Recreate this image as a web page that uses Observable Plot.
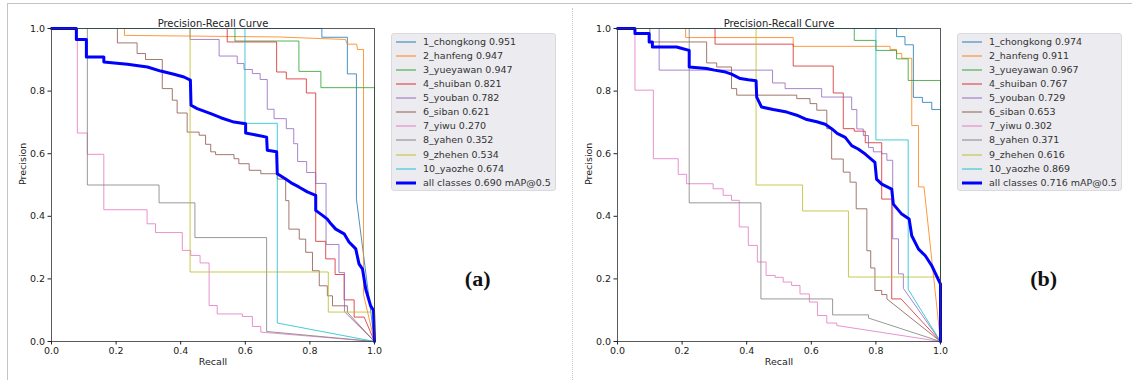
<!DOCTYPE html>
<html>
<head>
<meta charset="utf-8">
<script src="https://cdn.jsdelivr.net/npm/d3@7"></script>
<script src="https://cdn.jsdelivr.net/npm/@observablehq/plot@0.6"></script>
<style>
  body { margin: 0; background: #fff; width: 1132px; height: 380px; overflow: hidden; position: relative; font-family: "DejaVu Sans", sans-serif; }
  .abs { position: absolute; }
  .legend { position: absolute; background: #ebebf0; border: 1px solid #d9d9de; border-radius: 3px; box-sizing: border-box; }
  .row { position: absolute; left: 0; height: 14px; line-height: 14px; font-size: 9.5px; color: #333; white-space: nowrap; }
  .row svg { position: absolute; left: 3px; top: 0; }
  .row span { position: absolute; left: 31px; top: 0; }
  .plabel { position: absolute; font-family: "Liberation Serif", serif; font-weight: bold; font-size: 22px; color: #111; transform: translate(-50%, -50%); }
</style>
</head>
<body>
<div class="abs" style="left:7px;top:3px;width:1125px;height:1px;background:#c4c4c4"></div>
<div class="abs" style="left:7px;top:3px;width:1px;height:377px;background:#c4c4c4"></div>
<div class="abs" style="left:572px;top:8px;width:0;height:372px;border-left:1px dotted #c8c8c8"></div>
<script>
// ---------- categories ----------
const classNames = ["1_chongkong","2_hanfeng","3_yueyawan","4_shuiban","5_youban","6_siban","7_yiwu","8_yahen","9_zhehen","10_yaozhe"];
const colors = ["#1f77b4","#ff7f0e","#2ca02c","#d62728","#9467bd","#8c564b","#e377c2","#7f7f7f","#bcbd22","#17becf"];
const axisTicks = [0, 0.2, 0.4, 0.6, 0.8, 1.0];

// ---------- AP values ----------
const apA = [0.951, 0.947, 0.947, 0.821, 0.782, 0.621, 0.270, 0.352, 0.534, 0.674];
const mapA = 0.690;
const apB = [0.974, 0.911, 0.967, 0.767, 0.729, 0.653, 0.302, 0.371, 0.616, 0.869];
const mapB = 0.716;

// ---------- panel (a) curves: [recall, precision] ----------
const a_chongkong = [[0,1],[0.837,1],[0.837,0.972],[0.916,0.972],[0.916,0.855],[0.944,0.855],[0.944,0.456],[1,0]];
const a_hanfeng = [[0,1],[0.226,1],[0.226,0.978],[0.70,0.973],[0.91,0.965],[0.916,0.95],[0.945,0.95],[0.947,0.933],[0.966,0.933],[0.966,0.15],[1,0]];
const a_yueyawan = [[0,1],[0.568,1],[0.568,0.96],[0.766,0.96],[0.766,0.863],[0.834,0.863],[0.834,0.811],[1,0.811],[1,0]];
const a_shuiban = [[0,1],[0.544,1],[0.544,0.957],[0.697,0.957],[0.697,0.861],[0.727,0.861],[0.727,0.839],[0.789,0.839],[0.789,0.794],[0.818,0.794],[0.818,0.32],[0.849,0.32],[0.849,0.264],[0.878,0.264],[0.878,0.214],[0.906,0.214],[0.906,0.133],[0.937,0.133],[0.937,0.078],[0.968,0.078],[1,0]];
const a_youban = [[0,1],[0.429,1],[0.429,0.965],[0.519,0.965],[0.519,0.912],[0.575,0.912],[0.575,0.888],[0.596,0.888],[0.596,0.869],[0.622,0.869],[0.622,0.856],[0.646,0.856],[0.646,0.837],[0.668,0.837],[0.668,0.742],[0.689,0.742],[0.689,0.712],[0.727,0.712],[0.727,0.68],[0.75,0.68],[0.75,0.632],[0.762,0.632],[0.762,0.575],[0.79,0.575],[0.79,0.54],[0.818,0.54],[0.818,0.505],[0.85,0.505],[0.85,0.31],[0.89,0.31],[0.89,0.22],[0.907,0.22],[0.907,0.095],[1,0]];
const a_siban = [[0,1],[0.204,1],[0.204,0.954],[0.265,0.954],[0.265,0.92],[0.291,0.92],[0.291,0.901],[0.343,0.901],[0.343,0.808],[0.374,0.808],[0.374,0.771],[0.389,0.771],[0.389,0.73],[0.42,0.73],[0.42,0.669],[0.457,0.669],[0.457,0.659],[0.477,0.659],[0.477,0.63],[0.493,0.63],[0.493,0.606],[0.508,0.606],[0.508,0.597],[0.565,0.597],[0.565,0.584],[0.58,0.584],[0.58,0.568],[0.612,0.568],[0.612,0.547],[0.648,0.547],[0.648,0.536],[0.699,0.536],[0.699,0.519],[0.725,0.519],[0.725,0.45],[0.735,0.45],[0.735,0.359],[0.767,0.359],[0.767,0.327],[0.787,0.327],[0.787,0.285],[0.808,0.285],[0.808,0.226],[0.829,0.226],[0.829,0.178],[0.854,0.178],[0.854,0.146],[0.87,0.146],[0.87,0.114],[0.916,0.114],[0.916,0.093],[1,0]];
const a_yiwu = [[0,1],[0.08,1],[0.08,0.666],[0.111,0.666],[0.111,0.598],[0.162,0.598],[0.162,0.421],[0.296,0.421],[0.296,0.376],[0.322,0.376],[0.322,0.348],[0.405,0.348],[0.405,0.291],[0.431,0.291],[0.431,0.275],[0.46,0.275],[0.46,0.251],[0.488,0.251],[0.488,0.115],[0.513,0.115],[0.513,0.088],[0.591,0.088],[0.591,0.08],[0.622,0.08],[0.622,0.048],[0.648,0.048],[0.648,0.03],[1,0]];
const a_yahen = [[0,1],[0.111,1],[0.111,0.5],[0.333,0.5],[0.333,0.443],[0.444,0.443],[0.444,0.332],[0.666,0.332],[0.666,0.032],[1,0]];
const a_zhehen = [[0,1],[0.429,1],[0.429,0.222],[0.857,0.222],[0.857,0.094],[1,0.094],[1,0]];
const a_yaozhe = [[0,1],[0.599,1],[0.599,0.697],[0.699,0.697],[0.699,0.059],[1,0]];
const a_all = [[0,1],[0.077,1],[0.077,0.965],[0.108,0.965],[0.108,0.909],[0.162,0.909],[0.162,0.893],[0.235,0.886],[0.297,0.877],[0.338,0.864],[0.379,0.854],[0.41,0.845],[0.43,0.835],[0.432,0.755],[0.451,0.744],[0.493,0.728],[0.524,0.715],[0.565,0.701],[0.601,0.696],[0.601,0.666],[0.637,0.659],[0.666,0.653],[0.668,0.611],[0.697,0.606],[0.699,0.536],[0.725,0.519],[0.745,0.505],[0.767,0.493],[0.792,0.478],[0.818,0.467],[0.818,0.419],[0.839,0.403],[0.854,0.391],[0.865,0.376],[0.88,0.359],[0.906,0.344],[0.921,0.318],[0.942,0.296],[0.952,0.248],[0.963,0.231],[0.973,0.167],[0.988,0.114],[0.997,0.099],[1,0]];

// ---------- panel (b) curves ----------
const b_chongkong = [[0,1],[0.864,1],[0.864,0.974],[0.89,0.974],[0.89,0.948],[0.916,0.948],[0.916,0.78],[0.944,0.78],[0.944,0.764],[0.973,0.764],[0.973,0.741],[1,0.741],[1,0]];
const b_hanfeng = [[0,1],[0.211,1],[0.211,0.971],[0.544,0.971],[0.544,0.943],[0.844,0.943],[0.844,0.933],[0.864,0.933],[0.864,0.92],[0.88,0.92],[0.88,0.905],[0.911,0.905],[0.911,0.69],[0.932,0.69],[0.932,0.494],[0.949,0.494],[1,0]];
const b_yueyawan = [[0,1],[0.733,1],[0.733,0.962],[0.8,0.962],[0.8,0.93],[0.864,0.93],[0.864,0.903],[0.9,0.903],[0.9,0.834],[1,0.834],[1,0]];
const b_shuiban = [[0,1],[0.302,1],[0.302,0.95],[0.544,0.95],[0.544,0.88],[0.668,0.88],[0.668,0.794],[0.699,0.794],[0.699,0.68],[0.733,0.68],[0.733,0.672],[0.767,0.672],[0.767,0.635],[0.818,0.635],[0.818,0.455],[0.849,0.455],[0.849,0.136],[0.878,0.136],[1,0]];
const b_youban = [[0,1],[0.129,1],[0.129,0.867],[0.48,0.867],[0.48,0.826],[0.519,0.826],[0.519,0.808],[0.632,0.808],[0.632,0.781],[0.725,0.781],[0.725,0.741],[0.741,0.741],[0.741,0.679],[0.761,0.679],[0.761,0.658],[0.777,0.658],[0.777,0.62],[0.792,0.62],[0.792,0.606],[0.818,0.606],[0.818,0.6],[0.834,0.6],[0.834,0.579],[0.852,0.579],[0.852,0.328],[0.87,0.328],[0.87,0.216],[0.885,0.216],[0.885,0.17],[1,0]];
const b_siban = [[0,1],[0.1,1],[0.1,0.957],[0.276,0.957],[0.276,0.89],[0.307,0.89],[0.307,0.877],[0.353,0.877],[0.353,0.808],[0.369,0.808],[0.369,0.787],[0.555,0.787],[0.555,0.776],[0.596,0.776],[0.596,0.76],[0.617,0.76],[0.617,0.739],[0.648,0.739],[0.648,0.68],[0.663,0.68],[0.663,0.583],[0.699,0.583],[0.699,0.541],[0.72,0.541],[0.72,0.509],[0.739,0.509],[0.739,0.424],[0.772,0.424],[0.772,0.29],[0.784,0.29],[0.784,0.235],[0.797,0.235],[0.797,0.163],[0.818,0.163],[0.818,0.15],[0.834,0.15],[0.834,0.136],[1,0]];
const b_yiwu = [[0,1],[0.054,1],[0.054,0.803],[0.111,0.803],[0.111,0.584],[0.188,0.584],[0.188,0.534],[0.214,0.534],[0.214,0.504],[0.296,0.504],[0.296,0.488],[0.327,0.488],[0.327,0.467],[0.353,0.467],[0.353,0.451],[0.377,0.451],[0.377,0.366],[0.405,0.366],[0.405,0.307],[0.433,0.307],[0.433,0.254],[0.46,0.254],[0.46,0.211],[0.488,0.211],[0.488,0.205],[0.513,0.205],[0.513,0.19],[0.539,0.19],[0.539,0.179],[0.565,0.179],[0.565,0.152],[0.594,0.152],[0.594,0.126],[0.619,0.126],[0.619,0.083],[0.648,0.083],[0.648,0.059],[0.679,0.059],[0.679,0.051],[1,0]];
const b_yahen = [[0,1],[0.222,1],[0.222,0.443],[0.444,0.443],[0.444,0.136],[0.666,0.136],[0.666,0.085],[0.777,0.085],[0.777,0.075],[1,0]];
const b_zhehen = [[0,1],[0.429,1],[0.429,0.5],[0.573,0.5],[0.573,0.417],[0.715,0.417],[0.715,0.206],[1,0.206],[1,0]];
const b_yaozhe = [[0,1],[0.8,1],[0.8,0.644],[0.9,0.644],[0.9,0.167],[1,0]];
const b_all = [[0,1],[0.054,1],[0.054,0.984],[0.098,0.984],[0.098,0.957],[0.108,0.957],[0.108,0.941],[0.183,0.941],[0.2,0.936],[0.222,0.93],[0.222,0.877],[0.276,0.872],[0.3,0.867],[0.33,0.862],[0.353,0.854],[0.38,0.84],[0.405,0.836],[0.429,0.833],[0.431,0.781],[0.446,0.749],[0.482,0.741],[0.524,0.733],[0.555,0.723],[0.586,0.709],[0.617,0.702],[0.643,0.694],[0.663,0.68],[0.68,0.665],[0.705,0.652],[0.725,0.626],[0.745,0.615],[0.767,0.599],[0.797,0.572],[0.802,0.519],[0.818,0.503],[0.849,0.487],[0.854,0.439],[0.88,0.407],[0.903,0.391],[0.911,0.338],[0.932,0.295],[0.953,0.274],[0.973,0.242],[1.0,0.183],[1.0,0]];

const curvesA = [a_chongkong, a_hanfeng, a_yueyawan, a_shuiban, a_youban, a_siban, a_yiwu, a_yahen, a_zhehen, a_yaozhe];
const curvesB = [b_chongkong, b_hanfeng, b_yueyawan, b_shuiban, b_youban, b_siban, b_yiwu, b_yahen, b_zhehen, b_yaozhe];

function makePanel(curves, allCurve, ap, map, label, offsetX) {
  const fmt = d3.format(".1f");
  const chart = Plot.plot({
    width: 380, height: 380,
    marginLeft: 51, marginRight: 6, marginTop: 28, marginBottom: 39,
    x: {domain: [0, 1]},
    y: {domain: [0, 1]},
    style: {fontFamily: "DejaVu Sans", fontSize: "9.5px", color: "#222", background: "transparent", overflow: "visible"},
    marks: [
      ...curves.map((c, i) => Plot.line(c, {x: d => d[0], y: d => d[1], stroke: colors[i], strokeWidth: 1, strokeOpacity: 0.8})),
      Plot.line(allCurve, {x: d => d[0], y: d => d[1], stroke: "#0000ff", strokeWidth: 3}),
      Plot.frame({stroke: "#333", strokeWidth: 0.8}),
      Plot.axisX({ticks: axisTicks, tickFormat: fmt, tickSize: 3.5, tickPadding: 2.5, label: null}),
      Plot.axisY({ticks: axisTicks, tickFormat: fmt, tickSize: 3.5, tickPadding: 3, label: null}),
      Plot.text(["Precision-Recall Curve"], {frameAnchor: "top", dy: -9, fontSize: 10, fill: "#222"}),
      Plot.text(["Recall"], {frameAnchor: "bottom", dy: 23, fontSize: 9.5, fill: "#222"}),
      Plot.text(["Precision"], {frameAnchor: "left", dx: -29, rotate: -90, fontSize: 9.5, fill: "#222"})
    ]
  });
  chart.style.position = "absolute";
  chart.style.left = offsetX + "px";
  chart.style.top = "0px";
  document.body.appendChild(chart);

  // legend
  const lg = document.createElement("div");
  lg.className = "legend";
  lg.style.left = (offsetX + 391) + "px";
  lg.style.top = "33px";
  lg.style.width = "165px";
  lg.style.height = "158px";
  const entries = classNames.map((n, i) => ({text: `${n} ${ap[i].toFixed(3)}`, color: colors[i], w: 1.2, op: 0.8}));
  entries.push({text: `all classes ${map.toFixed(3)} mAP@0.5`, color: "#0000ff", w: 3, op: 1});
  entries.forEach((e, i) => {
    const row = document.createElement("div");
    row.className = "row";
    row.style.top = (0.7 + i * 14.1) + "px";
    row.innerHTML = `<svg width="22" height="14"><line x1="1" x2="21" y1="7" y2="7" stroke="${e.color}" stroke-width="${e.w}" stroke-opacity="${e.op}"/></svg><span>${e.text}</span>`;
    lg.appendChild(row);
  });
  document.body.appendChild(lg);

  const pl = document.createElement("div");
  pl.className = "plabel";
  pl.style.left = (offsetX + 477.7) + "px";
  pl.style.top = "279px";
  pl.textContent = label;
  document.body.appendChild(pl);
}

makePanel(curvesA, a_all, apA, mapA, "(a)", 0);
makePanel(curvesB, b_all, apB, mapB, "(b)", 566);
</script>
</body>
</html>
